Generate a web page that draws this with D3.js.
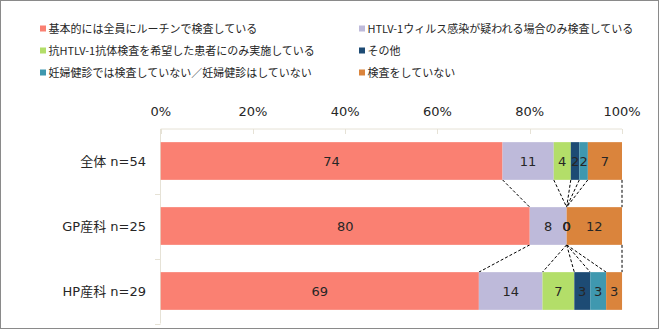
<!DOCTYPE html>
<html><head><meta charset="utf-8">
<script src="https://cdn.jsdelivr.net/npm/d3@7"></script>
<style>
body{margin:0;background:#fff;}
text{font-family:"DejaVu Sans","Noto Sans CJK JP",sans-serif;}
</style></head>
<body><svg id="c" width="660" height="330"></svg>
<script>
const categories = ["全体 n=54", "GP産科 n=25", "HP産科 n=29"];
const seriesNames = [
  "基本的には全員にルーチンで検査している",
  "HTLV-1ウィルス感染が疑われる場合のみ検査している",
  "抗HTLV-1抗体検査を希望した患者にのみ実施している",
  "その他",
  "妊婦健診では検査していない／妊婦健診はしていない",
  "検査をしていない"
];
const colors = ["#FA8072", "#BEBADA", "#B3DE69", "#1D4B74", "#3F98AF", "#DA843C"];
// percentages per category, in series order
const valuesAll = [74.1, 11.1, 3.7, 1.85, 1.85, 7.4];
const valuesGP  = [80, 8, 0, 0, 0, 12];
const valuesHP  = [68.97, 13.79, 6.9, 3.45, 3.45, 3.45];
const tickValues = [0, 20, 40, 60, 80, 100];

const rows = [valuesAll, valuesGP, valuesHP];
const svg = d3.select("#c");

svg.append("rect").attr("x",0.5).attr("y",0.5).attr("width",658).attr("height",328)
  .attr("fill","#fff").attr("stroke","#8a8a8a");

const x = d3.scaleLinear().domain([0,100]).range([160.7, 622]);
const y = d3.scaleBand().domain(categories).range([128.5, 323.5]).paddingInner(0.42).paddingOuter(0.21);
const yb = d3.scaleBand().domain(categories).range([128.5, 323.5]);

// legend
const legendItems = seriesNames.map((n,i)=>({n,i}));
const lg = svg.append("g").selectAll("g").data(legendItems).join("g")
  .attr("transform", d => `translate(${d.i%2===0?40:359},${28.5 + Math.floor(d.i/2)*22})`);
lg.append("rect").attr("x",0).attr("y",-3).attr("width",6).attr("height",6).attr("fill",d=>colors[d.i]);
lg.append("text").attr("x",8.5).attr("y",4.2).attr("font-size",11).attr("fill","#262626")
  .style("font-family",'"Noto Sans CJK JP",sans-serif').text(d=>d.n);

// top axis
const axisG = svg.append("g");
axisG.append("line").attr("x1",x(0)).attr("x2",x(100)).attr("y1",129).attr("y2",129).attr("stroke","#E6E2D6");
axisG.selectAll("line.t").data(tickValues).join("line").attr("class","t")
  .attr("x1",d=>Math.round(x(d))+0.5).attr("x2",d=>Math.round(x(d))+0.5).attr("y1",129).attr("y2",134).attr("stroke","#E6E2D6");
axisG.selectAll("text").data(tickValues).join("text")
  .attr("x",d=>x(d)).attr("y",116.3).attr("text-anchor","middle").attr("font-size",13).attr("fill","#262626")
  .text(d=>d+"%");

// left axis
const la = svg.append("g");
la.append("line").attr("x1",160.5).attr("x2",160.5).attr("y1",129).attr("y2",323.5).attr("stroke","#E6E2D6");
la.selectAll("line.t").data(categories).join("line").attr("class","t")
  .attr("x1",155).attr("x2",160.5).attr("y1",d=>Math.round(yb(d)+yb.bandwidth())+0.5).attr("y2",d=>Math.round(yb(d)+yb.bandwidth())+0.5)
  .attr("stroke","#E6E2D6");
la.selectAll("text").data(categories).join("text")
  .attr("x",146).attr("y",d=>y(d)+y.bandwidth()/2+4.5).attr("text-anchor","end").attr("font-size",13).attr("fill","#262626")
  .text(d=>d);

// stacked data
const segs = [];
rows.forEach((vals,ri)=>{
  let c=0;
  vals.forEach((v,si)=>{segs.push({cat:categories[ri],ri,si,v,x0:c,x1:c+v}); c+=v;});
});

// series lines
const dl = svg.append("g");
for(let ri=0; ri<rows.length-1; ri++){
  seriesNames.forEach((s,si)=>{
    const a = segs.find(d=>d.ri===ri&&d.si===si), b = segs.find(d=>d.ri===ri+1&&d.si===si);
    dl.append("line").attr("x1",x(a.x1)).attr("y1",y(categories[ri])+y.bandwidth())
      .attr("x2",x(b.x1)).attr("y2",y(categories[ri+1]))
      .attr("stroke","#000").attr("stroke-width",1).attr("stroke-dasharray","3,2");
  });
}

svg.append("g").selectAll("rect").data(segs).join("rect")
  .attr("x",d=>x(d.x0)).attr("width",d=>x(d.x1)-x(d.x0))
  .attr("y",d=>y(d.cat)).attr("height",y.bandwidth()).attr("fill",d=>colors[d.si]);

svg.append("g").selectAll("text").data(segs).join("text")
  .attr("x",d=>x((d.x0+d.x1)/2)).attr("y",d=>y(d.cat)+y.bandwidth()/2+4.6)
  .attr("text-anchor","middle").attr("font-size",13).attr("fill","#262626")
  .text(d=>Math.round(d.v));
</script></body></html>
